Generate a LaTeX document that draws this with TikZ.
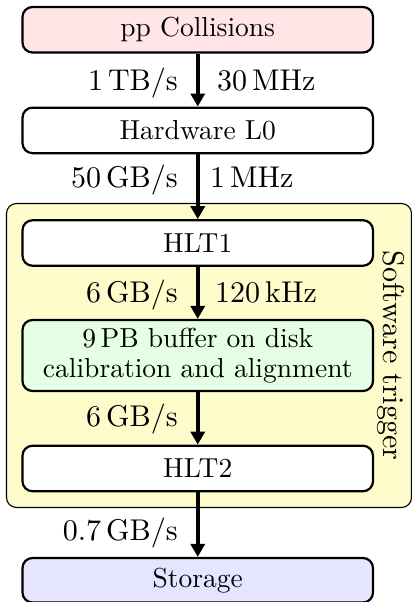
\documentclass[tikz,border=0pt]{standalone}
\usepackage{fontspec}
\setmainfont{lmroman10-regular.otf}
\usetikzlibrary{arrows.meta}
\begin{document}
\begin{tikzpicture}[x=1pt,y=-1pt,
  stage/.style={draw, line width=2.2pt, rounded corners=10pt,
    minimum width=350.5pt, minimum height=45.5pt, inner sep=0pt,
    align=center, font=\fontsize{27.5}{30}\selectfont},
  flow/.style={line width=3.5pt, -{Triangle[length=13pt,width=14pt]}},
  rate/.style={inner sep=0pt, font=\fontsize{30}{36}\selectfont},
  group/.style={draw, line width=1.1pt, rounded corners=10pt, fill=yellow!20,
    inner sep=0pt, minimum width=405pt, minimum height=304pt}]
  \useasboundingbox (0,0) rectangle (412,602);

  % software trigger frame
  \node[group] (sw) at (209,355.5) {};
  \node[rate, rotate=-90, anchor=base] (swl) at (383.5,355.5) {Software trigger};

  % processing stages
  \node[stage, fill=red!10]   (pp)    at (197.75,29.75)  {pp Collisions};
  \node[stage, fill=white]    (l0)    at (197.75,130.4)  {Hardware L0};
  \node[stage, fill=white]    (hlt1)  at (197.75,243)    {HLT1};
  \node[stage, fill=green!10, minimum height=71pt]
                              (buf)   at (197.75,355.5)  {9\,PB buffer on disk\\calibration and alignment};
  \node[stage, fill=white]    (hlt2)  at (197.75,468.5)  {HLT2};
  \node[stage, fill=blue!10, minimum height=44.5pt]
                              (store) at (197.75,580.25) {Storage};

  % data flow
  \draw[flow] (pp) -- (l0);
  \draw[flow] (l0) -- (hlt1);
  \draw[flow] (hlt1) -- (buf);
  \draw[flow] (buf) -- (hlt2);
  \draw[flow] (hlt2) -- (store);

  % bandwidths and rates
  \node[rate, anchor=base east] (bw1) at (178,90)  {1\,TB/s};
  \node[rate, anchor=base west] (fr1) at (217,90)  {30\,MHz};
  \node[rate, anchor=base east] (bw2) at (178,187) {50\,GB/s};
  \node[rate, anchor=base west] (fr2) at (210,187) {1\,MHz};
  \node[rate, anchor=base east] (bw3) at (178,302) {6\,GB/s};
  \node[rate, anchor=base west] (fr3) at (215,302) {120\,kHz};
  \node[rate, anchor=base east] (bw4) at (178,426) {6\,GB/s};
  \node[rate, anchor=base east] (bw5) at (178,540) {0.7\,GB/s};
\end{tikzpicture}
\end{document}
